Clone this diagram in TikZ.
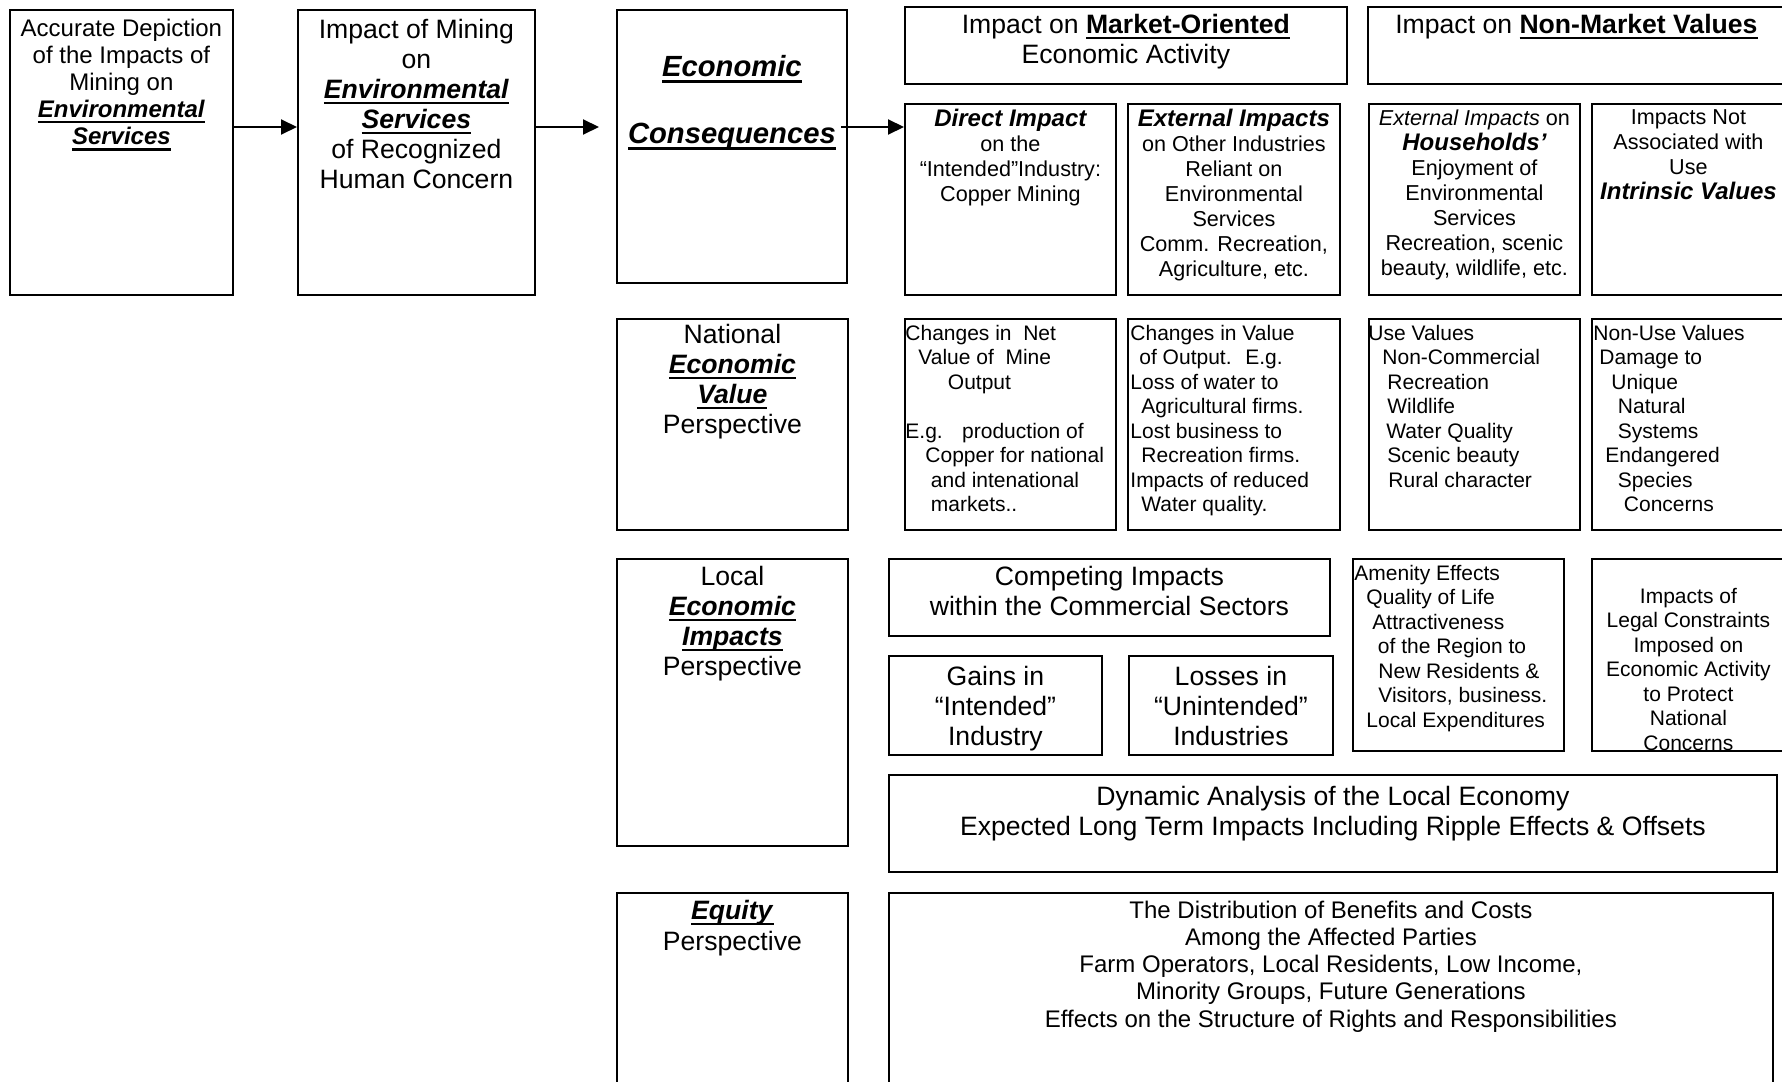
\documentclass[tikz,border=0pt]{standalone}
\usepackage{fontspec}
\setmainfont{Liberation Sans}
\usetikzlibrary{arrows.meta,positioning}

\newsavebox{\ulbox}
\newcommand{\uln}[1]{\sbox{\ulbox}{#1}\rlap{\rule[-0.23em]{\wd\ulbox}{0.09em}}\usebox{\ulbox}}
\newcommand{\bi}[1]{\textbf{\textit{#1}}}
\newcommand{\bbi}[1]{{\fontsize{12}{12.5}\selectfont\bfseries\itshape #1}}

\begin{document}
\begin{tikzpicture}[
  x=1pt, y=-1pt,
  box/.style={draw, line width=0.9pt, anchor=north west, inner sep=0pt},
  txt/.style={align=center, inner sep=0pt},
  lft/.style={align=left, inner sep=0pt},
  title/.style={font=\fontsize{14.6}{17}\selectfont\bfseries\itshape},
  head/.style={font=\fontsize{13.3}{15}\selectfont},
  lead/.style={font=\fontsize{12}{13.6}\selectfont},
  note/.style={font=\fontsize{10.8}{12.5}\selectfont},
  fine/.style={font=\fontsize{10.5}{12.25}\selectfont},
  arr/.style={-{Triangle[length=8pt,width=7.5pt]}, line width=1pt},
]
  \useasboundingbox (0,0) rectangle (891,540.5);

  % left column
  \node[box, minimum width=111.5pt, minimum height=142.5pt] (acc) at (4.5,4.5) {};
  \node[box, minimum width=118.5pt, minimum height=142.5pt] (imp) at (148.5,4.5) {};
  \node[box, minimum width=115pt, minimum height=136.5pt] (ecc) at (308,4.5) {};
  \node[box, minimum width=115.5pt, minimum height=105.5pt] (nat) at (308,159) {};
  \node[box, minimum width=115.5pt, minimum height=143.5pt] (loc) at (308,279) {};
  \node[box, minimum width=115.5pt, minimum height=110pt] (equ) at (308,446) {};

  % market and non-market columns
  \node[box, minimum width=221pt, minimum height=38.5pt] (mkt) at (452,3) {};
  \node[box, minimum width=208.5pt, minimum height=38.5pt] (nmk) at (683.5,3) {};
  \node[box, minimum width=105.5pt, minimum height=95.5pt] (dir) at (452,51.5) {};
  \node[box, minimum width=106pt, minimum height=95.5pt] (ext) at (563.5,51.5) {};
  \node[box, minimum width=105.5pt, minimum height=95.5pt] (hh) at (684,51.5) {};
  \node[box, minimum width=96.5pt, minimum height=95.5pt] (intr) at (795.5,51.5) {};
  \node[box, minimum width=105.5pt, minimum height=105.5pt] (cnet) at (452,159) {};
  \node[box, minimum width=106pt, minimum height=105.5pt] (cval) at (563.5,159) {};
  \node[box, minimum width=105.5pt, minimum height=105.5pt] (usev) at (684,159) {};
  \node[box, minimum width=96.5pt, minimum height=105.5pt] (nonu) at (795.5,159) {};
  \node[box, minimum width=220.5pt, minimum height=38.5pt] (comp) at (444,279) {};
  \node[box, minimum width=106.5pt, minimum height=49.5pt] (gain) at (444,327.5) {};
  \node[box, minimum width=102pt, minimum height=49.5pt] (loss) at (564,327.5) {};
  \node[box, minimum width=105.5pt, minimum height=96pt] (amen) at (676,279) {};
  \node[box, minimum width=96.5pt, minimum height=96pt] (legal) at (795.5,279) {};
  \node[box, minimum width=444pt, minimum height=48.5pt] (dyn) at (444,387) {};
  \node[box, minimum width=442pt, minimum height=110pt] (dist) at (444,446) {};

  \node[txt, lead, below=4.7pt of acc.north] (acct) {Accurate Depiction\\of the Impacts of\\Mining on\\\uln{\bi{Environmental}}\\\uln{\bi{Services}}};
  \node[txt, head, below=4.7pt of imp.north] (impt) {Impact of Mining\\on\\\uln{\bi{Environmental}}\\\uln{\bi{Services}}\\of Recognized\\Human Concern};
  \node[txt, title, below=22.8pt of ecc.north] (econ) {\uln{Economic}};
  \node[txt, title, inner xsep=2.5pt, below=56.8pt of ecc.north] (cons) {\uln{Consequences}};
  \node[txt, head, below=2.7pt of nat.north] (natt) {National\\\uln{\bi{Economic}}\\\uln{\bi{Value}}\\Perspective};
  \node[txt, head, below=3.7pt of loc.north] (loct) {Local\\\uln{\bi{Economic}}\\\uln{\bi{Impacts}}\\Perspective};
  \node[txt, font=\fontsize{13.3}{15.5}\selectfont, below=3.7pt of equ.north] (equt) {\uln{\bi{Equity}}\\Perspective};

  \node[txt, head, below=3.7pt of mkt.north] (mktt) {Impact on \uln{\textbf{Market-Oriented}}\\Economic Activity};
  \node[txt, head, below=3.7pt of nmk.north] (nmkt) {Impact on \uln{\textbf{Non-Market Values}}};
  \node[txt, note, below=2.7pt of dir.north] (dirt) {\bbi{Direct Impact}\\on the\\“Intended”Industry:\\Copper Mining};
  \node[txt, note, below=2.7pt of ext.north] (extt) {\bbi{External Impacts}\\on Other Industries\\Reliant on\\Environmental\\Services\\Comm. Recreation,\\Agriculture, etc.};
  \node[txt, note, below=3.1pt of hh.north] (hht) {\textit{External Impacts} on\\\bbi{Households’}\\Enjoyment of\\Environmental\\Services\\Recreation, scenic\\beauty, wildlife, etc.};
  \node[txt, note, below=3.1pt of intr.north] (intrt) {Impacts Not\\Associated with\\Use\\\bbi{Intrinsic Values}};

  \node[lft, fine, below right=3.25pt and 0.5pt of cnet.north west] (cnett) {Changes in~ Net\\\hspace*{6.5pt}Value of~ Mine\\\hspace*{21.25pt}Output\\\mbox{}\\E.g.~~ production of\\\hspace*{10pt}Copper for national\\\hspace*{12.75pt}and intenational\\\hspace*{12.75pt}markets..};
  \node[lft, fine, below right=3.25pt and 1.5pt of cval.north west] (cvalt) {Changes in Value\\\hspace*{4.5pt}of Output.~ E.g.\\Loss of water to\\\hspace*{5.5pt}Agricultural firms.\\Lost business to\\\hspace*{5.5pt}Recreation firms.\\Impacts of reduced\\\hspace*{5.5pt}Water quality.};
  \node[lft, fine, below right=3.25pt and 0pt of usev.north west] (usevt) {Use Values\\\hspace*{7pt}Non-Commercial\\\hspace*{9.5pt}Recreation\\\hspace*{9.5pt}Wildlife\\\hspace*{9pt}Water Quality\\\hspace*{9.5pt}Scenic beauty\\\hspace*{10pt}Rural character};
  \node[lft, fine, below right=3.25pt and 1pt of nonu.north west] (nonut) {Non-Use Values\\\hspace*{3pt}Damage to\\\hspace*{9pt}Unique\\\hspace*{12.25pt}Natural\\\hspace*{12.25pt}Systems\\\hspace*{6pt}Endangered\\\hspace*{12.25pt}Species\\\hspace*{15.25pt}Concerns};

  \node[txt, head, below=3.7pt of comp.north] (compt) {Competing Impacts\\within the Commercial Sectors};
  \node[txt, head, below=5.2pt of gain.north] (gaint) {Gains in\\“Intended”\\Industry};
  \node[txt, head, below=5.2pt of loss.north] (losst) {Losses in\\“Unintended”\\Industries};
  \node[lft, fine, below right=3.25pt and 1pt of amen.north west] (ament) {Amenity Effects\\\hspace*{6pt}Quality of Life\\\hspace*{9pt}Attractiveness\\\hspace*{11.75pt}of the Region to\\\hspace*{12pt}New Residents \&\\\hspace*{12pt}Visitors, business.\\\hspace*{6pt}Local Expenditures};
  \begin{scope}
    \clip (legal.north west) rectangle (legal.south east);
    \node[txt, fine, below=14.75pt of legal.north] (legalt) {Impacts of\\Legal Constraints\\Imposed on\\Economic Activity\\to Protect\\National\\Concerns};
  \end{scope}
  \node[txt, head, below=5.7pt of dyn.north] (dynt) {Dynamic Analysis of the Local Economy\\Expected Long Term Impacts Including Ripple Effects \& Offsets};
  \node[txt, lead, below=4.2pt of dist.north] (distt) {The Distribution of Benefits and Costs\\Among the Affected Parties\\Farm Operators, Local Residents, Low Income,\\Minority Groups, Future Generations\\Effects on the Structure of Rights and Responsibilities};

  \coordinate (flow) at (0,63.5);
  \coordinate (ctip) at ([xshift=-8.5pt]ecc.west);
  \draw[arr] (acc.east |- flow) -- (imp.west |- flow);
  \draw[arr] (imp.east |- flow) -- (ctip |- flow);
  \draw[arr] (cons.east |- flow) -- (dir.west |- flow);
\end{tikzpicture}
\end{document}
